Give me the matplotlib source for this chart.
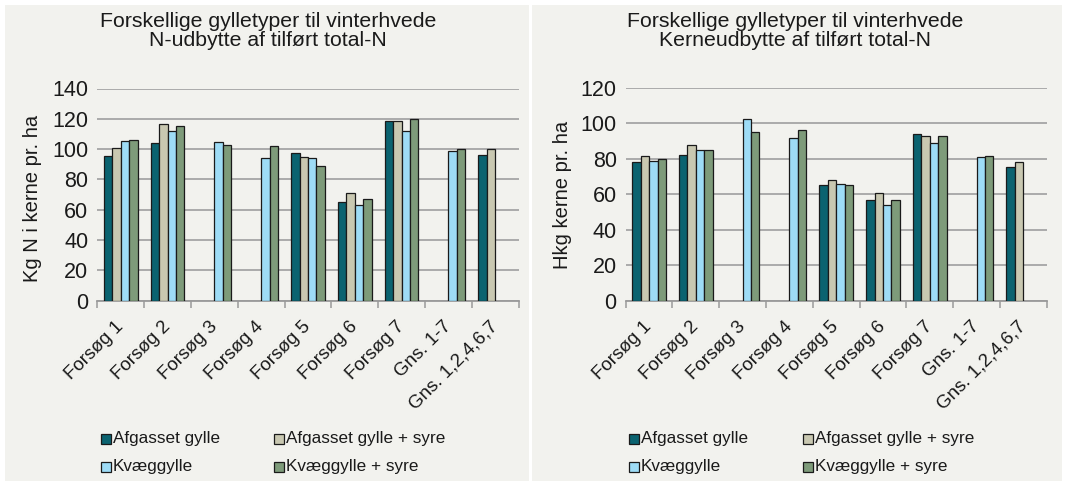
import numpy as np
import matplotlib
matplotlib.use("Agg")
import matplotlib.pyplot as plt
from matplotlib.patches import Rectangle
from matplotlib.ticker import FixedLocator
import matplotlib.transforms as mtransforms

plt.rcParams['font.family'] = ['Liberation Sans', 'DejaVu Sans']

categories = ["Forsøg 1", "Forsøg 2", "Forsøg 3", "Forsøg 4", "Forsøg 5",
              "Forsøg 6", "Forsøg 7", "Gns. 1-7", "Gns. 1,2,4,6,7"]
series_names = ["Afgasset gylle", "Afgasset gylle + syre", "Kvæggylle", "Kvæggylle + syre"]
series_colors = ["#0b6370", "#c9c8b1", "#9edcf6", "#7e9b7a"]

nan = np.nan
# Left chart: Kg N i kerne pr. ha
n_afgasset = [95.7, 103.8, nan, nan, 97.6, 65.3, 118.4, nan, 96.3]
n_afgasset_syre = [100.7, 116.8, nan, nan, 95.0, 71.0, 118.4, nan, 100.1]
n_kvaeg = [105.4, 112.0, 104.9, 94.3, 94.4, 63.3, 112.0, 98.5, nan]
n_kvaeg_syre = [106.3, 115.3, 102.5, 101.8, 88.6, 67.2, 119.9, 100.1, nan]

# Right chart: Hkg kerne pr. ha
k_afgasset = [78.0, 82.2, nan, nan, 65.1, 57.0, 93.8, nan, 75.4]
k_afgasset_syre = [81.4, 87.6, nan, nan, 67.9, 61.0, 93.0, nan, 78.1]
k_kvaeg = [78.8, 85.0, 102.5, 91.6, 66.0, 54.2, 89.1, 80.9, nan]
k_kvaeg_syre = [80.1, 85.0, 95.2, 96.5, 65.1, 57.0, 93.1, 81.6, nan]

left_title = "Forskellige gylletyper til vinterhvede\nN-udbytte af tilført total-N"
right_title = "Forskellige gylletyper til vinterhvede\nKerneudbytte af tilført total-N"
left_ylabel = "Kg N i kerne pr. ha"
right_ylabel = "Hkg kerne pr. ha"
left_yticks = [0, 20, 40, 60, 80, 100, 120, 140]
right_yticks = [0, 20, 40, 60, 80, 100, 120]

W, H = 1065, 483
fig = plt.figure(figsize=(W / 100, H / 100), dpi=100)
fig.patch.set_facecolor("white")
bg = "#f2f2ee"
txt = "#1a1a1a"

# panel backgrounds
fig.add_artist(Rectangle((5 / W, 2 / H), (524 / W), (476 / H), transform=fig.transFigure,
                         facecolor=bg, edgecolor="none", zorder=0))
fig.add_artist(Rectangle((532 / W, 2 / H), (530 / W), (476 / H), transform=fig.transFigure,
                         facecolor=bg, edgecolor="none", zorder=0))


def draw(ax_rect, series, title, ylabel, yticks, title_x, ylabel_x, ylabel_y,
         legend_x0, legend_x1):
    ax = fig.add_axes(ax_rect)
    ax.set_facecolor(bg)
    x = np.arange(len(categories))
    w = 0.18
    for i, (vals, color, name) in enumerate(zip(series, series_colors, series_names)):
        vals = np.array(vals, dtype=float)
        mask = ~np.isnan(vals)
        ax.bar(x[mask] + (i - 1.5) * w, vals[mask], width=w, color=color,
               edgecolor="#1a1a1a", linewidth=0.9, zorder=3)
    ax.set_xlim(-0.5, len(categories) - 0.5)
    ax.set_ylim(0, yticks[-1])
    ax.set_yticks(yticks)
    ax.yaxis.grid(True, color="#a5a5a5", linewidth=1.3, zorder=0)
    ax.set_axisbelow(True)
    for s in ["top", "right", "left"]:
        ax.spines[s].set_visible(False)
    ax.spines["bottom"].set_color("#9a9a9a")
    ax.spines["bottom"].set_linewidth(1.3)
    ax.tick_params(axis="y", length=0, pad=6.5, labelsize=15.5, colors=txt)
    ax.set_xticks(x)
    ax.set_xticklabels(categories, rotation=45, ha="right", va="top", rotation_mode="anchor",
                       fontsize=13.5, color=txt)
    ax.tick_params(axis="x", which="major", length=0, pad=12.5)
    offset = mtransforms.ScaledTranslation(-6 / 100, 0, fig.dpi_scale_trans)
    for lab in ax.xaxis.get_majorticklabels():
        lab.set_transform(lab.get_transform() + offset)
    ax.xaxis.set_minor_locator(FixedLocator(np.arange(-0.5, len(categories), 1.0)))
    ax.tick_params(axis="x", which="minor", length=5, width=1.1, color="#9a9a9a", direction="out")
    fig.text(ylabel_x / W, 1 - ylabel_y / H, ylabel, rotation=90, ha="center", va="center",
             fontsize=14.5, color=txt)
    fig.text(title_x / W, 1 - 31 / H, title, ha="center", va="center", fontsize=15.3,
             color=txt, linespacing=1.05)
    # legend
    rows = [(0, legend_x0, 439), (1, legend_x1, 439), (2, legend_x0, 467), (3, legend_x1, 467)]
    for idx, lx, ly in rows:
        fig.add_artist(Rectangle(((lx) / W, 1 - (ly + 5) / H), 10 / W, 10 / H,
                                 transform=fig.transFigure, facecolor=series_colors[idx],
                                 edgecolor="#1a1a1a", linewidth=0.9))
        fig.text((lx + 12) / W, 1 - ly / H, series_names[idx], ha="left", va="center",
                 fontsize=12.3, color=txt)
    return ax


draw([97.4 / W, 1 - 300.7 / H, 421.2 / W, 212.2 / H],
     [n_afgasset, n_afgasset_syre, n_kvaeg, n_kvaeg_syre],
     left_title, left_ylabel, left_yticks, 268, 33, 198, 101, 274)
draw([625.7 / W, 1 - 300.7 / H, 421 / W, 212.7 / H],
     [k_afgasset, k_afgasset_syre, k_kvaeg, k_kvaeg_syre],
     right_title, right_ylabel, right_yticks, 795, 563, 195, 629, 803)

fig.savefig("out.png", dpi=100, facecolor="white")
